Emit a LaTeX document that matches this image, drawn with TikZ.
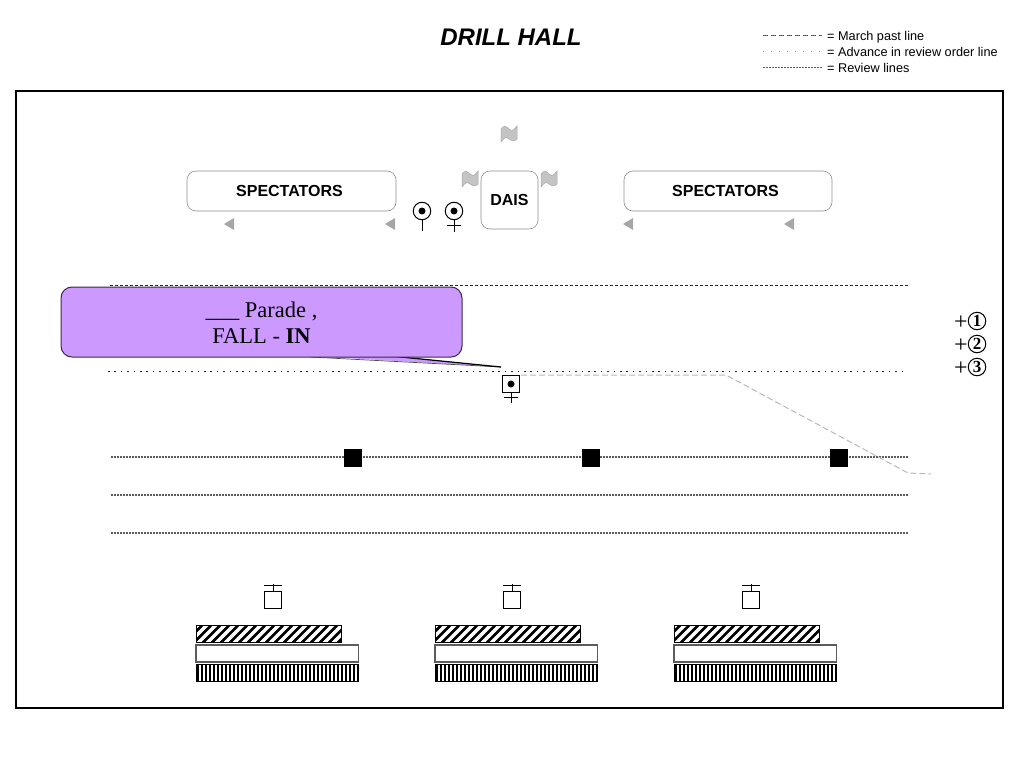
\documentclass[tikz,border=0pt]{standalone}
\usepackage{xcolor}
\usepackage{fontspec}
\setmainfont{Liberation Sans}
\newfontfamily\serifface{Liberation Serif}
\usetikzlibrary{calc}
\definecolor{bk70}{HTML}{5C5C5C}
\definecolor{flaggray}{HTML}{C4C4C4}
\definecolor{calloutfill}{HTML}{CC99FF}
\definecolor{calloutline}{HTML}{3A2A4A}
\tikzset{
  roundbox/.style={
    rectangle, rounded corners=9pt, draw=bk70!70, line width=0.6pt, fill=white,
    font=\fontsize{16}{18}\selectfont\bfseries, align=center, inner sep=0pt
  },
  marchline/.style={line width=1pt, black!85, dash pattern=on 3pt off 2pt},
  advanceline/.style={line width=1.1pt, black!85, dash pattern=on 1.6pt off 4.8pt},
  reviewline/.style={line width=1.6pt, bk70, dash pattern=on 1.5pt off 1.5pt},
  pathline/.style={line width=1pt, black!28, dash pattern=on 6pt off 3pt},
  legendtext/.style={font=\fontsize{12.7}{14}\selectfont, anchor=base west, inner sep=0pt},
  headmark/.style={circle, draw, line width=1pt, minimum size=17.5pt, inner sep=0pt},
  squaremark/.style={rectangle, draw, line width=1pt, minimum size=17pt, inner sep=0pt},
  guide/.style={rectangle, fill=black, minimum size=18pt, inner sep=0pt},
  rankbar/.style={rectangle, draw, line width=0.9pt, anchor=north west, minimum height=17pt,
    inner sep=0pt, outer sep=0pt},
  hatchbar/.style={rankbar, path picture={
    \foreach \k in {-20,-11,...,150} {
      \draw[line width=2.6pt] ($(path picture bounding box.south west)+(\k,0)$) -- ++(17,-17);
    }}},
  stripebar/.style={rankbar, path picture={
    \foreach \k in {2,6,...,162} {
      \draw[line width=2pt] ($(path picture bounding box.south west)+(\k,0)$) -- ++(0,-17);
    }}},
  numdigit/.style={circle, draw, line width=1pt, minimum size=17.5pt, inner sep=0pt,
    font=\serifface\fontsize{17}{17}\selectfont\bfseries},
  numplus/.style={font=\serifface\fontsize{24}{24}\selectfont, inner sep=0pt},
  dot/.pic={\fill (0,0) circle (3.5pt);},
  flagmark/.pic={
    \fill[flaggray, draw=black!35, line width=0.5pt] (-8,-5)
      .. controls (-5,-9) and (-3,-8) .. (0,-5)
      .. controls (3,-2) and (5,-4) .. (8,-8)
      -- (8,5) .. controls (5,8) and (3,7) .. (0,5)
      .. controls (-3,2) and (-5,4) .. (-8,8) -- cycle;
  },
  backarrow/.pic={
    \fill[black!35] (-5,0) -- (5,-6) -- (5,6) -- cycle;
  },
}
\begin{document}
\begin{tikzpicture}[x=1pt, y=-1pt]
  \useasboundingbox (0,0) rectangle (1024,768);
  % heading and legend
  \node[font=\fontsize{24}{28}\selectfont\bfseries\itshape] (title) at (511,37) {DRILL HALL};
  \node[legendtext] (lgmarch) at (827,40.5) {= March past line};
  \node[legendtext] (lgadvance) at (827,56.5) {= Advance in review order line};
  \node[legendtext] (lgreview) at (827,72.5) {= Review lines};
  \coordinate (lgm) at (763,35.5);
  \coordinate (lga) at (763,51.5);
  \coordinate (lgr) at (763,67.5);
  \draw[line width=0.8pt, black!65, dash pattern=on 5pt off 3pt] (lgm) -- ($(lgm -| lgmarch.west)+(-5,0)$);
  \draw[line width=0.9pt, black!40, dash pattern=on 1pt off 7pt] (lga) -- (lga -| lgadvance.west);
  \draw[reviewline, line width=1pt] (lgr) -- ($(lgr -| lgreview.west)+(-5,0)$);
  % hall
  \node[draw, line width=2pt, minimum width=987pt, minimum height=617pt, inner sep=0pt] (hall) at (509.5,399.5) {};
  % dais end
  \node[roundbox, minimum width=209pt, minimum height=40pt, text depth=0pt] (specl) at (291.5,191) {\hspace{-4pt}SPECTATORS};
  \node[roundbox, minimum width=208pt, minimum height=40pt, text depth=0pt] (specr) at (728,191) {\hspace{-5pt}SPECTATORS};
  \node[roundbox, minimum width=57pt, minimum height=58pt] (dais) at (509.5,200) {DAIS};
  \foreach \x/\y in {509/134,470/179,549/179} { \pic at (\x,\y) {flagmark}; }
  \foreach \x in {229,390,628,789} { \pic at (\x,224) {backarrow}; }
  % reviewing party
  \node[headmark] (rev1) at (422,211) {};
  \node[headmark] (rev2) at (454,211) {};
  \pic at (rev1) {dot};
  \pic at (rev2) {dot};
  \coordinate (rev1f) at (422,231);
  \coordinate (rev2f) at (454,232);
  \coordinate (rev2a) at (454,225);
  \draw[line width=1pt] (rev1.south) -- (rev1f);
  \draw[line width=1pt] (rev2.south) -- (rev2f);
  \draw[line width=1pt] ($(rev2a)+(-7,0)$) -- ($(rev2a)+(7,0)$);
  % parade ground lines
  \coordinate (mpl) at (110,285.5);  \coordinate (mpr) at (908,285.5);
  \coordinate (adl) at (108,371.5);  \coordinate (adr) at (905,371.5);
  \draw[marchline] (mpl) -- (mpr);
  \draw[advanceline] (adl) -- (adr);
  \foreach \y/\n in {457/a,495/b,533/c} {
    \coordinate (rl\n) at (111,\y);
    \coordinate (rr\n) at (908,\y);
    \draw[reviewline] (rl\n) -- (rr\n);
  }
  % adjutant and route
  \node[squaremark] (adj) at (511,384) {};
  \pic at (adj) {dot};
  \coordinate (adjf) at (511,403);
  \coordinate (adja) at (511,397);
  \draw[line width=1pt] (adj.south) -- (adjf);
  \draw[line width=1pt] ($(adja)+(-7,0)$) -- ($(adja)+(7,0)$);
  \coordinate (rt0) at (521,375);
  \coordinate (rt1) at (726,375);
  \coordinate (rt2) at (908,473);
  \coordinate (rt3) at (931,474);
  \draw[pathline] (rt0) -- (rt1) -- (rt2) -- (rt3);
  % markers
  \node[guide] (g1) at (353,458) {};
  \node[guide] (g2) at (591,458) {};
  \node[guide] (g3) at (839,458) {};
  % callout
  \coordinate (tip) at (501,367);
  \fill[calloutfill] (310,356) -- (tip) -- (396,356) -- cycle;
  \draw[black!70, line width=0.7pt] (310,357) -- (tip);
  \draw[black, line width=1.2pt] (tip) -- (396,356.5);
  \node[rectangle, rounded corners=11pt, draw=calloutline, line width=1pt, fill=calloutfill,
    minimum width=401pt, minimum height=70pt, inner sep=0pt, align=center,
    font=\serifface\fontsize{22.5}{26}\selectfont] (call) at (261.5,322)
    {\rule{0pt}{17pt}\_\_\_ Parade ,\\FALL - \textbf{IN}};
  % numbers
  \foreach \y/\n in {321/1,344/2,367/3} {
    \node[numdigit] (d\n) at (977,\y) {\n};
    \node[numplus, anchor=east, yshift=-1.5pt] (p\n) at (d\n.west) {+};
  }
  % ranks
  \foreach \x/\n in {196/a,435/b,674/c} {
    \node[hatchbar, minimum width=145.5pt] (hb\n) at (\x,625.5) {};
    \node[rankbar, minimum width=162.5pt, fill=white, draw=bk70, line width=1.2pt] (wb\n) at (\x,645) {};
    \node[stripebar, minimum width=162.5pt] (vb\n) at (\x,664.5) {};
    \node[squaremark] (cmd\n) at ($(\x,599.5)+(77,0)$) {};
    \coordinate (cmdt\n) at ($(cmd\n.north)+(0,-7)$);
    \coordinate (cmda\n) at ($(cmd\n.north)+(0,-5)$);
    \draw[line width=1pt] (cmd\n.north) -- (cmdt\n);
    \draw[line width=1pt] ($(cmda\n)+(-9,0)$) -- ($(cmda\n)+(9,0)$);
  }
\end{tikzpicture}
\end{document}
